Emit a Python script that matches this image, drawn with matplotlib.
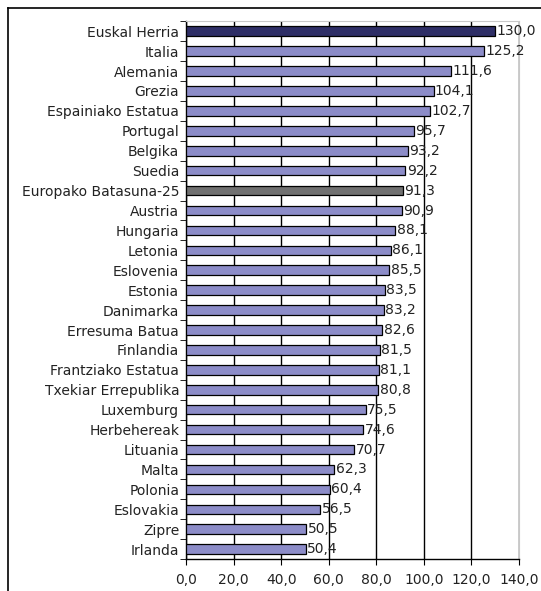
import matplotlib.pyplot as plt
from matplotlib.lines import Line2D

countries = [
    "Euskal Herria", "Italia", "Alemania", "Grezia", "Espainiako Estatua",
    "Portugal", "Belgika", "Suedia", "Europako Batasuna-25", "Austria",
    "Hungaria", "Letonia", "Eslovenia", "Estonia", "Danimarka",
    "Erresuma Batua", "Finlandia", "Frantziako Estatua", "Txekiar Errepublika",
    "Luxemburg", "Herbehereak", "Lituania", "Malta", "Polonia",
    "Eslovakia", "Zipre", "Irlanda",
]
values = [
    130.0, 125.2, 111.6, 104.1, 102.7, 95.7, 93.2, 92.2, 91.3, 90.9,
    88.1, 86.1, 85.5, 83.5, 83.2, 82.6, 81.5, 81.1, 80.8, 75.5,
    74.6, 70.7, 62.3, 60.4, 56.5, 50.5, 50.4,
]
xticks = [0, 20, 40, 60, 80, 100, 120, 140]

base_color = "#8c8cc8"
colors = [base_color] * len(countries)
colors[0] = "#2e2e66"
colors[countries.index("Europako Batasuna-25")] = "#707070"

txt = "#222222"
fig = plt.figure(figsize=(5.41, 5.91), dpi=100)
ax = fig.add_axes([0.344, 0.054, 0.615, 0.91])

y = list(range(len(countries)))
ax.barh(y, values, height=0.48, color=colors, edgecolor="black", linewidth=0.9, zorder=3)
ax.set_ylim(len(countries) - 0.5, -0.5)
ax.set_xlim(0, 140)

for yi, v in zip(y, values):
    ax.text(v + 0.6, yi, f"{v:.1f}".replace(".", ","), va="center", ha="left",
            fontsize=10, color=txt, zorder=4)

ax.set_xticks(xticks)
ax.set_xticklabels([f"{t:.1f}".replace(".", ",") for t in xticks], fontsize=10, color=txt)
ax.set_yticks(y)
ax.set_yticklabels(countries, fontsize=10, color=txt)
ax.tick_params(axis="y", length=0, pad=5)
ax.set_yticks([i - 0.5 for i in range(len(countries) + 1)], minor=True)
ax.tick_params(axis="y", which="minor", length=4, direction="out")
ax.tick_params(axis="x", length=4, direction="out", pad=6)

ax.grid(axis="x", color="black", linewidth=1.0, zorder=0)
for side in ["top", "right"]:
    ax.spines[side].set_color("#c8c8c8")
for side in ["left", "bottom"]:
    ax.spines[side].set_color("black")
    ax.spines[side].set_linewidth(1.0)

# outer chart frame
fig.add_artist(Line2D([8 / 541, 1], [1 - 8 / 591, 1 - 8 / 591], color="black", lw=1.2,
                      transform=fig.transFigure))
fig.add_artist(Line2D([8 / 541, 8 / 541], [0, 1 - 8 / 591], color="black", lw=1.2,
                      transform=fig.transFigure))

fig.savefig("out.png", dpi=100)
